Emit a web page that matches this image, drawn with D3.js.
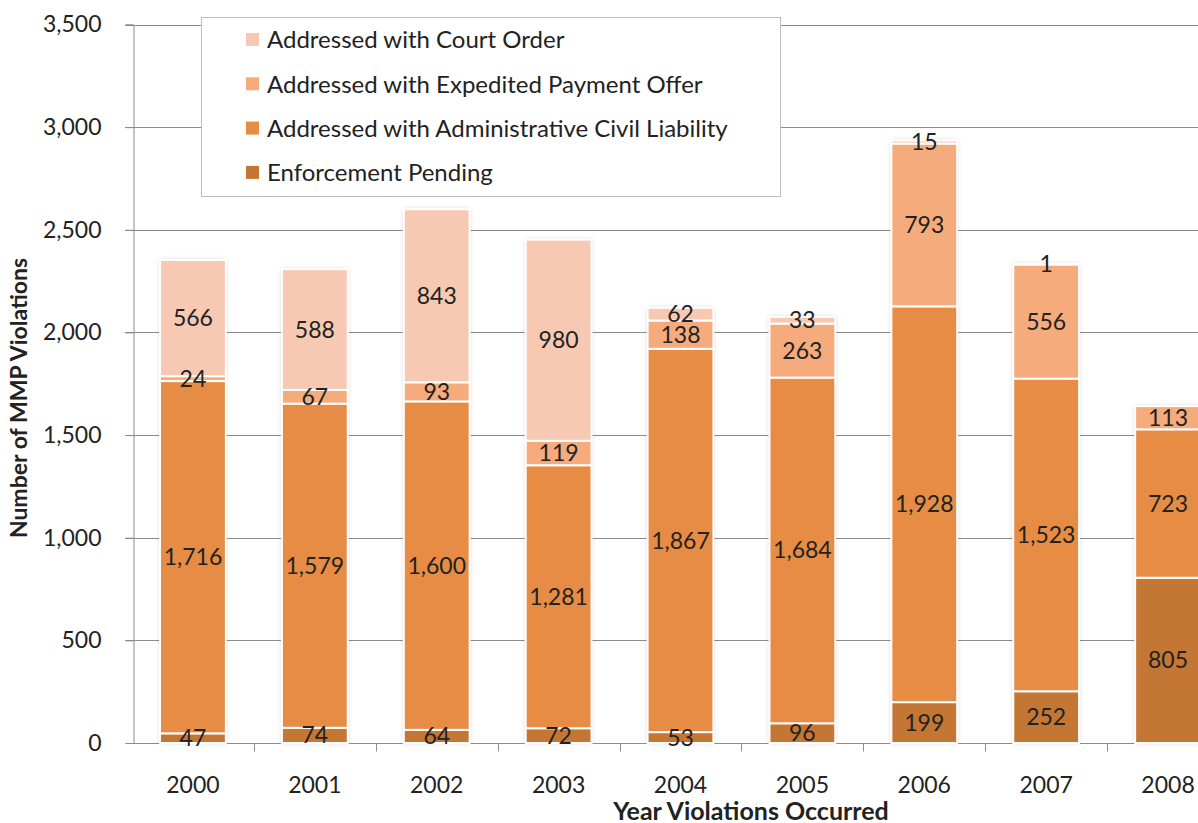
<!DOCTYPE html>
<html>
<head>
<meta charset="utf-8">
<script src="https://cdn.jsdelivr.net/npm/d3@7"></script>
<style>
  body { margin: 0; background: #fff; }
  svg { display: block; font-family: Lato, "Open Sans", sans-serif; }
</style>
</head>
<body>
<svg id="chart" width="1198" height="823"></svg>
<script>
var years = ["2000","2001","2002","2003","2004","2005","2006","2007","2008"];
var pending = [47, 74, 64, 72, 53, 96, 199, 252, 805];
var acl = [1716, 1579, 1600, 1281, 1867, 1684, 1928, 1523, 723];
var expedited = [24, 67, 93, 119, 138, 263, 793, 556, 113];
var court = [566, 588, 843, 980, 62, 33, 15, 1, 0];
var yTicks = [0, 500, 1000, 1500, 2000, 2500, 3000, 3500];

var seriesNames = ["Enforcement Pending", "Addressed with Administrative Civil Liability",
  "Addressed with Expedited Payment Offer", "Addressed with Court Order"];
var seriesKeys = ["pending", "acl", "expedited", "court"];
var colors = ["#c47634", "#e78c44", "#f5ab7b", "#f8c9b2"];

var table = years.map(function(y, i) {
  return {year: y, pending: pending[i], acl: acl[i], expedited: expedited[i], court: court[i]};
});

var svg = d3.select("#chart");

var x = d3.scaleBand().domain(years).range([132, 1229]).padding(0);
var y = d3.scaleLinear().domain([0, 3500]).range([743, 24.5]);
var barW = x.bandwidth() * 0.54;
var numSize = 23;

var defs = svg.append("defs");
var f = defs.append("filter").attr("id", "shadow").attr("x", "-20%").attr("y", "-5%").attr("width", "140%").attr("height", "110%");
f.append("feDropShadow").attr("dx", 0).attr("dy", 0).attr("stdDeviation", 2.5).attr("flood-color", "#000").attr("flood-opacity", 0.18);

// gridlines
svg.append("g")
  .selectAll("line")
  .data(yTicks.slice(1))
  .join("line")
  .attr("x1", 125).attr("x2", 1229)
  .attr("y1", d => Math.round(y(d)) + 0.5).attr("y2", d => Math.round(y(d)) + 0.5)
  .attr("stroke", "#8c8c8c").attr("stroke-width", 1);

// y axis
var yAxis = svg.append("g")
  .attr("transform", "translate(133.5,0)")
  .call(d3.axisLeft(y).tickValues(yTicks).tickSize(8).tickPadding(24).tickFormat(d3.format(",")));
yAxis.select(".domain").attr("stroke", "#8c8c8c");
yAxis.selectAll(".tick line").attr("stroke", "#8c8c8c");
yAxis.selectAll("text").attr("font-size", numSize).attr("fill", "#222").attr("font-family", "Lato, sans-serif");

// x axis
var xAxis = svg.append("g").attr("transform", "translate(0," + (Math.round(y(0)) + 0.5) + ")");
xAxis.append("line").attr("x1", 133).attr("x2", 1229).attr("stroke", "#8c8c8c");
xAxis.selectAll(".xt")
  .data(years.slice(1))
  .join("line")
  .attr("class", "xt")
  .attr("x1", d => Math.round(x(d)) + 0.5).attr("x2", d => Math.round(x(d)) + 0.5)
  .attr("y1", 0).attr("y2", 8)
  .attr("stroke", "#8c8c8c");
xAxis.selectAll(".xl")
  .data(years)
  .join("text")
  .attr("class", "xl")
  .attr("x", d => x(d) + x.bandwidth() / 2)
  .attr("y", 49)
  .attr("text-anchor", "middle")
  .attr("font-size", numSize).attr("fill", "#222")
  .text(d => d);

// stacked bars
var stack = d3.stack().keys(seriesKeys)(table);

var bars = svg.append("g");
bars.selectAll("rect.shadow")
  .data(table)
  .join("rect")
  .attr("class", "shadow")
  .attr("x", d => x(d.year) + (x.bandwidth() - barW) / 2)
  .attr("width", barW)
  .attr("y", d => y(d.pending + d.acl + d.expedited + d.court))
  .attr("height", d => y(0) - y(d.pending + d.acl + d.expedited + d.court))
  .attr("fill", "#fff")
  .attr("filter", "url(#shadow)");

stack.forEach(function(layer, li) {
  bars.append("g")
    .selectAll("rect")
    .data(layer.filter(d => d[1] - d[0] > 0))
    .join("rect")
    .attr("x", d => x(d.data.year) + (x.bandwidth() - barW) / 2)
    .attr("width", barW)
    .attr("y", d => y(d[1]))
    .attr("height", d => y(d[0]) - y(d[1]))
    .attr("fill", colors[li])
    .attr("stroke", "#fff")
    .attr("stroke-width", 2);
});

// data labels
stack.forEach(function(layer, li) {
  svg.append("g")
    .selectAll("text")
    .data(layer.filter(d => d[1] - d[0] > 0))
    .join("text")
    .attr("x", d => x(d.data.year) + x.bandwidth() / 2)
    .attr("y", d => y((d[0] + d[1]) / 2))
    .attr("dy", "0.35em")
    .attr("text-anchor", "middle")
    .attr("font-size", numSize).attr("fill", "#222")
    .text(d => d3.format(",")(d[1] - d[0]));
});

// axis titles
svg.append("text")
  .attr("transform", "translate(27,398) rotate(-90)")
  .attr("text-anchor", "middle")
  .attr("font-size", 23).attr("font-weight", "bold").attr("fill", "#222")
  .text("Number of MMP Violations");

svg.append("text")
  .attr("x", 751).attr("y", 820)
  .attr("text-anchor", "middle")
  .attr("font-size", 25).attr("font-weight", "bold").attr("fill", "#222")
  .text("Year Violations Occurred");

// legend
var legend = svg.append("g");
legend.append("rect")
  .attr("x", 201.5).attr("y", 17.5).attr("width", 579).attr("height", 179)
  .attr("fill", "#fff").attr("stroke", "#bdbdbd");
var legendOrder = [3, 2, 1, 0];
var li = legend.selectAll("g.item")
  .data(legendOrder)
  .join("g")
  .attr("class", "item")
  .attr("transform", (d, i) => "translate(246," + (40 + i * 44.3) + ")");
li.append("rect").attr("x", 0).attr("y", -7).attr("width", 13).attr("height", 13).attr("fill", d => colors[d]);
li.append("text").attr("x", 21).attr("y", 0).attr("dy", "0.35em")
  .attr("font-size", 24).attr("fill", "#222")
  .text(d => seriesNames[d]);
</script>
</body>
</html>
